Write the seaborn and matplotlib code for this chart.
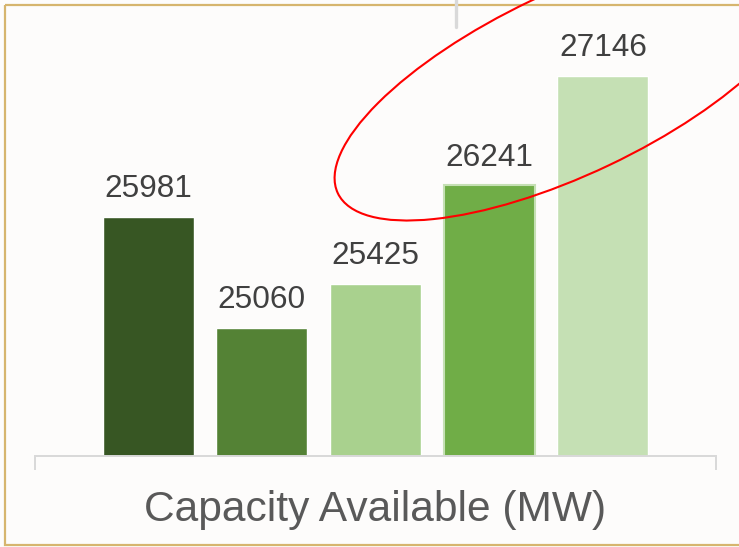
import matplotlib

matplotlib.use("Agg")
import matplotlib.pyplot as plt
import seaborn as sns
from matplotlib.lines import Line2D
from matplotlib.patches import Ellipse, Rectangle
from matplotlib.transforms import Affine2D
from pandas import DataFrame

# data
periods = ["P1", "P2", "P3", "P4", "P5"]
capacity_mw = [25981, 25060, 25425, 26241, 27146]
bar_colors = ["#375623", "#548235", "#a9d18e", "#70ad47", "#c5e0b4"]
axis_title = "Capacity Available (MW)"

W, H, DPI = 739, 547, 100
BG = "#fdfcfb"

sns.set_style(style="white")
plt.rcParams["font.family"] = ["Liberation Sans", "DejaVu Sans"]

fig = plt.figure(figsize=(W / DPI, H / DPI), dpi=DPI, facecolor=BG)
ax = fig.add_axes([34.5 / W, (H - 456) / H, 682 / W, 432.7 / H])
ax.set_facecolor(BG)

df = DataFrame({"period": periods, "capacity": capacity_mw})
sns.barplot(
    data=df,
    x="period",
    y="capacity",
    hue="period",
    palette=bar_colors,
    legend=False,
    width=0.8,
    saturation=1,
    ax=ax,
)

# fourth bar has a light outline
for bar in ax.containers[3]:
    bar.set_edgecolor("#c5e0b4")
    bar.set_linewidth(1.5)

for container in ax.containers:
    ax.bar_label(container, padding=9, fontsize=22.7, color="#404040")

ax.set_xlim(-1, 5)
ax.set_ylim(24000, 27580)
ax.set_yticks([])
ax.set_ylabel("")
ax.set_xticks([-1, 5])
ax.set_xticklabels(["", ""])
ax.tick_params(
    axis="x", bottom=True, direction="out", length=10, width=1.4, color="#d9d9d9"
)
for side in ["top", "right", "left"]:
    ax.spines[side].set_visible(False)
ax.spines["bottom"].set_color("#d9d9d9")
ax.spines["bottom"].set_linewidth(1.4)

ax.set_xlabel(axis_title, fontsize=30.6, color="#595959")
ax.xaxis.label.set_va("baseline")
ax.xaxis.set_label_coords(0.5, -(521 - 456) / 432.7)

# decorations, in image pixel coordinates (y down)
px = Affine2D().scale(1 / DPI, -1 / DPI).translate(0, H / DPI) + fig.dpi_scale_trans

fig.add_artist(
    Rectangle(
        (5, 5), 760, 540, transform=px, fill=False, edgecolor="#d6b56e", linewidth=1.6
    )
)
fig.add_artist(
    Line2D([456, 456], [0, 27], transform=px, color="#d9d9d9", linewidth=2.4)
)
fig.add_artist(
    Ellipse(
        (570, 83),
        514,
        182,
        angle=-25.4,
        transform=px,
        fill=False,
        edgecolor="#ff0000",
        linewidth=1.5,
    )
)

fig.savefig("out.png", dpi=DPI, facecolor=BG)
